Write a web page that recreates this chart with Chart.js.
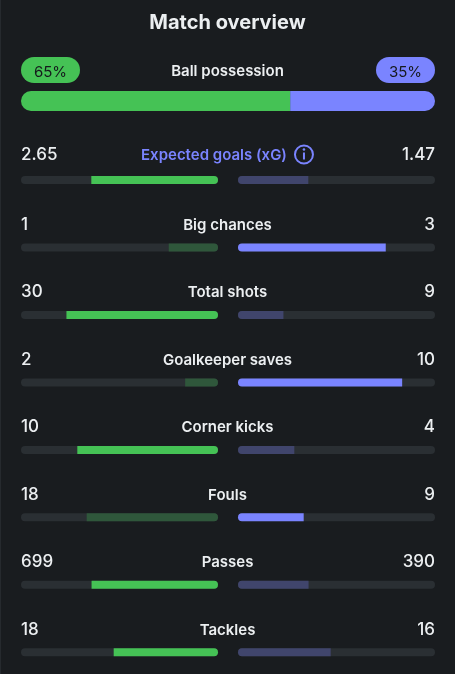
<!DOCTYPE html>
<html>
<head>
<meta charset="utf-8">
<title>Match overview</title>
<script src="https://cdn.jsdelivr.net/npm/chart.js@4.4.1/dist/chart.umd.min.js"></script>
<style>
  html, body { margin: 0; padding: 0; background: #191c1f; overflow: hidden; }
  body { width: 455px; height: 674px; position: relative; box-shadow: inset 1px 0 0 #262a2e; }
  .box { position: absolute; left: 0; width: 455px; }
  #possession-box { top: 0; height: 130px; }
  #stats-box { top: 130px; height: 544px; }
</style>
</head>
<body>
<div class="box" id="possession-box"><canvas id="possessionChart"></canvas></div>
<div class="box" id="stats-box"><canvas id="statsChart"></canvas></div>
<script>
const TITLE = 'Match overview';
const POSSESSION_LABEL = 'Ball possession';
const possession = [65, 35];

const statLabels = ['Expected goals (xG)', 'Big chances', 'Total shots', 'Goalkeeper saves', 'Corner kicks', 'Fouls', 'Passes', 'Tackles'];
const homeValues = [2.65, 1, 30, 2, 10, 18, 699, 18];
const awayValues = [1.47, 3, 9, 10, 4, 9, 390, 16];
const lowerIsBetter = ['Fouls'];
const infoLabel = 'Expected goals (xG)';

const HOME = '#45c255', AWAY = '#7a84ff';
const HOME_DIM = '#2f573b', AWAY_DIM = '#40456c', TRACK = '#2a2f33';
const TEXT = '#eceff1', PILL_TEXT = '#15191c';
const FONT = 'Inter, "Noto Sans", sans-serif';
const GAP = 20 / 197; // space between the two half bars, in half-bar widths

const homeShare = homeValues.map((h, i) => h / (h + awayValues[i]));
const awayShare = awayValues.map((a, i) => a / (homeValues[i] + a));
const homeLeads = homeValues.map((h, i) =>
  lowerIsBetter.includes(statLabels[i]) ? h < awayValues[i] : h > awayValues[i]);

// --- text plugins ---
const headerText = {
  id: 'headerText',
  afterDraw(chart) {
    const { ctx, width, chartArea } = chart;
    ctx.save();
    ctx.textAlign = 'center';
    ctx.fillStyle = TEXT;
    ctx.font = `700 20px ${FONT}`;
    ctx.fillText(TITLE, width / 2, 29);
    ctx.font = `600 15px ${FONT}`;
    ctx.fillText(POSSESSION_LABEL, width / 2, 76);

    const pills = [[chartArea.left, HOME, possession[0]], [chartArea.right - 59, AWAY, possession[1]]];
    pills.forEach(([x, color, v]) => {
      ctx.fillStyle = color;
      ctx.beginPath();
      ctx.roundRect(x, 57, 59, 26, 13);
      ctx.fill();
      ctx.fillStyle = PILL_TEXT;
      ctx.font = `400 15px ${FONT}`;
      ctx.fillText(v + '%', x + 29.5, 76.5);
    });
    ctx.restore();
  }
};

const rowText = {
  id: 'rowText',
  afterDraw(chart) {
    const { ctx, width } = chart;
    const { left, right } = chart.chartArea;
    const yScale = chart.scales.y;
    ctx.save();
    statLabels.forEach((label, i) => {
      const base = yScale.getPixelForValue(i) - (label === infoLabel ? 20 : 17.5);
      ctx.font = `500 17px ${FONT}`;
      ctx.fillStyle = TEXT;
      ctx.textAlign = 'left';
      ctx.fillText(String(homeValues[i]), left, base);
      ctx.textAlign = 'right';
      ctx.fillText(String(awayValues[i]), right, base);

      ctx.font = `600 15px ${FONT}`;
      if (label === infoLabel) {
        const w = ctx.measureText(label).width;
        const x0 = width / 2 - (w + 7 + 20) / 2;
        ctx.fillStyle = AWAY;
        ctx.textAlign = 'left';
        ctx.fillText(label, x0, base);
        // info icon
        const cx = x0 + w + 17, cy = base - 5.5;
        ctx.strokeStyle = AWAY;
        ctx.lineWidth = 2;
        ctx.beginPath();
        ctx.arc(cx, cy, 9, 0, Math.PI * 2);
        ctx.stroke();
        ctx.fillRect(cx - 1, cy - 2, 2, 7);
        ctx.beginPath();
        ctx.arc(cx, cy - 5, 1.3, 0, Math.PI * 2);
        ctx.fill();
      } else {
        ctx.textAlign = 'center';
        ctx.fillText(label, width / 2, base);
      }
    });
    ctx.restore();
  }
};

const noChrome = { legend: { display: false }, tooltip: { enabled: false } };

// --- possession ---
new Chart(document.getElementById('possessionChart'), {
  type: 'bar',
  data: {
    labels: [POSSESSION_LABEL],
    datasets: [
      { data: [possession[0]], backgroundColor: HOME, borderRadius: { topLeft: 10, bottomLeft: 10, topRight: 0, bottomRight: 0 } },
      { data: [possession[1]], backgroundColor: AWAY, borderRadius: { topLeft: 0, bottomLeft: 0, topRight: 10, bottomRight: 10 } }
    ]
  },
  options: {
    indexAxis: 'y',
    animation: false,
    responsive: true,
    maintainAspectRatio: false,
    layout: { padding: { left: 21, right: 20, top: 91, bottom: 19 } },
    datasets: { bar: { barThickness: 20, borderSkipped: false, inflateAmount: 0, clip: false } },
    scales: {
      x: { display: false, stacked: true, min: 0, max: 100 },
      y: { display: false, stacked: true }
    },
    plugins: noChrome
  },
  plugins: [headerText]
});

// --- stat rows ---
new Chart(document.getElementById('statsChart'), {
  type: 'bar',
  data: {
    labels: statLabels,
    datasets: [
      {
        data: homeShare.map(s => [1 - s, 1]),
        backgroundColor: homeLeads.map(l => l ? HOME : HOME_DIM),
        borderRadius: { topLeft: 0, bottomLeft: 0, topRight: 4, bottomRight: 4 },
        order: 0, clip: false
      },
      {
        data: awayShare.map(s => [1 + GAP, 1 + GAP + s]),
        backgroundColor: homeLeads.map(l => l ? AWAY_DIM : AWAY),
        borderRadius: { topLeft: 4, bottomLeft: 4, topRight: 0, bottomRight: 0 },
        order: 0, clip: false
      },
      { data: statLabels.map(() => [0, 1]), backgroundColor: TRACK, borderRadius: 4, order: 1, clip: false },
      { data: statLabels.map(() => [1 + GAP, 2 + GAP]), backgroundColor: TRACK, borderRadius: 4, order: 1, clip: false }
    ]
  },
  options: {
    indexAxis: 'y',
    animation: false,
    responsive: true,
    maintainAspectRatio: false,
    layout: { padding: { left: 21, right: 20, top: 50, bottom: 21.7 } },
    datasets: { bar: { grouped: false, barThickness: 8, borderSkipped: false, inflateAmount: 0 } },
    scales: {
      x: { display: false, min: 0, max: 2 + GAP },
      y: { display: false, offset: false }
    },
    plugins: noChrome
  },
  plugins: [rowText]
});
</script>
</body>
</html>
